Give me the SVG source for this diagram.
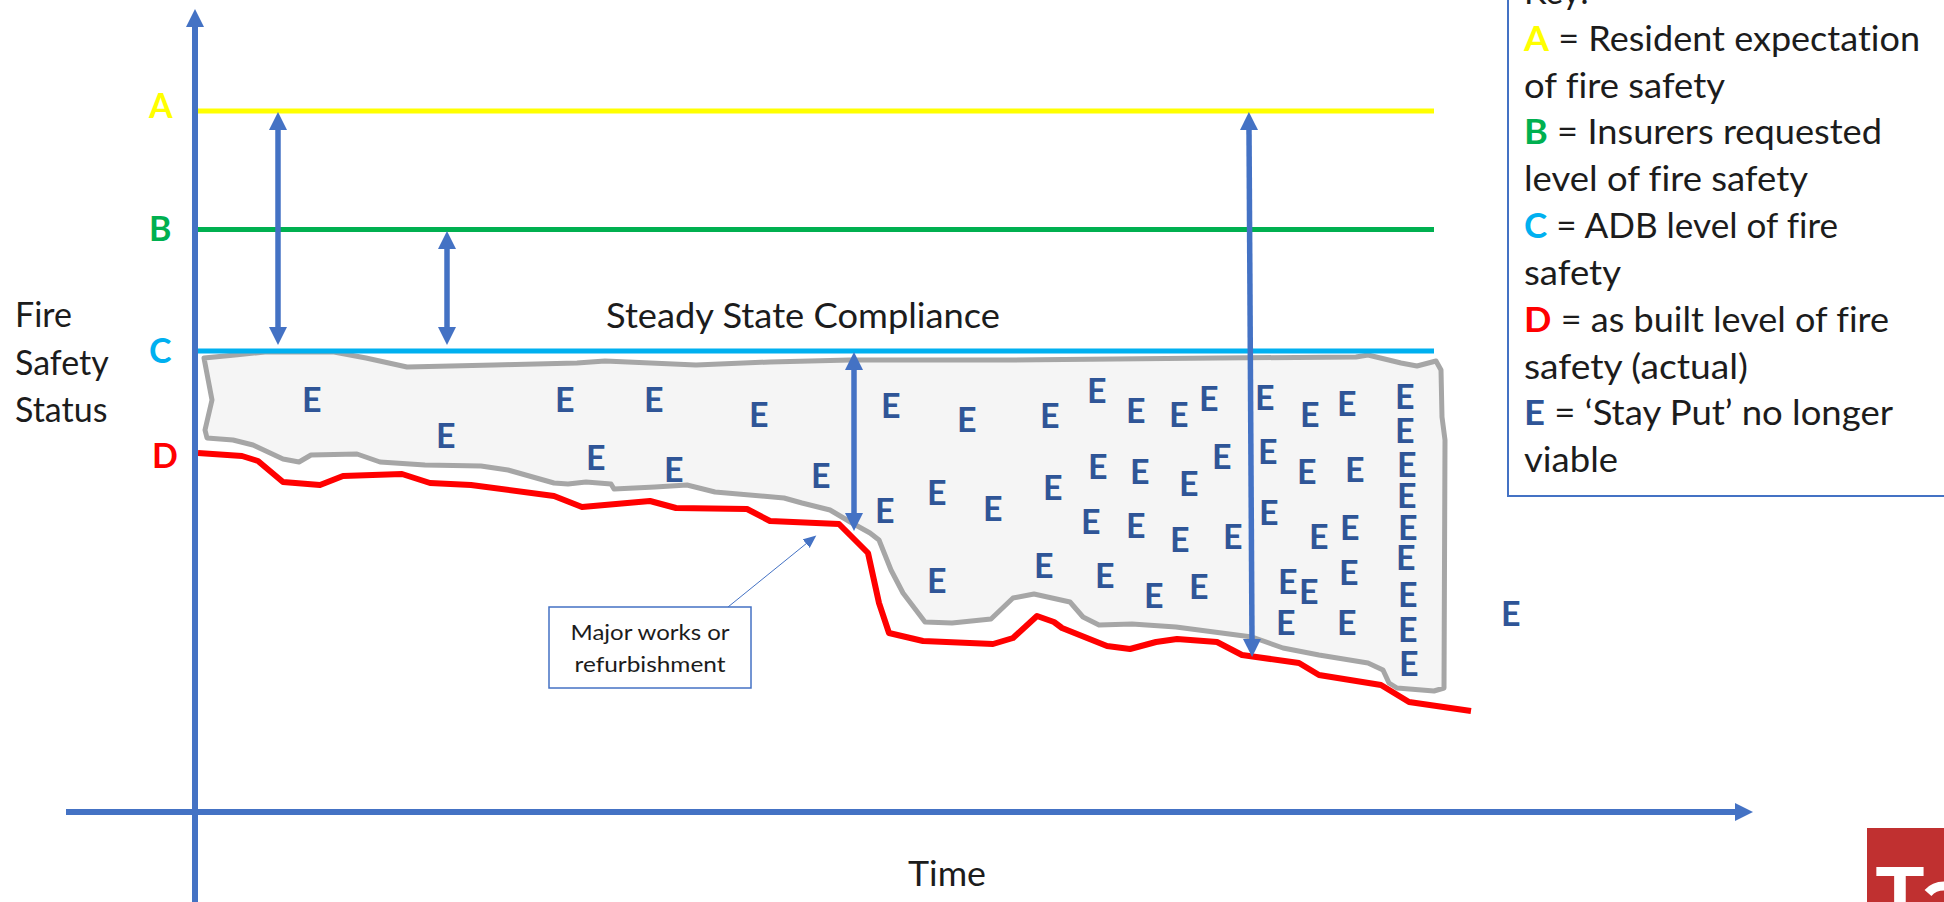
<svg xmlns="http://www.w3.org/2000/svg" width="1944" height="902" viewBox="0 0 1944 902">
<style>
text{font-family:"Lato","Noto Sans","Liberation Sans",sans-serif;fill:#1c1c1c;font-variant-ligatures:none}
.t{font-size:34px}
.s{font-size:22px}
.e{font-size:34px;font-weight:700;fill:#2F5597}
.l{font-size:34px;font-weight:700}
.ax{stroke:#4472C4;stroke-width:6;fill:none}
.da{stroke:#4472C4;stroke-width:5.5;fill:none;marker-start:url(#h);marker-end:url(#h)}
.lv{stroke-width:5;fill:none}
.a{fill:#FFFF00}.b{fill:#00B050}.c{fill:#00B0F0}.d{fill:#FF0000}.k{fill:#2F5597}
</style>
<defs>
<marker id="h" markerUnits="userSpaceOnUse" markerWidth="20" markerHeight="20" refX="1" refY="10" orient="auto-start-reverse"><path d="M0 1L18 10L0 19z" fill="#4472C4"/></marker>
<marker id="n" markerUnits="userSpaceOnUse" markerWidth="14" markerHeight="12" refX="1" refY="6" orient="auto"><path d="M0 0.5L13 6L0 11.5z" fill="#4472C4"/></marker>
<filter id="soft" x="-5%" y="-5%" width="110%" height="110%"><feGaussianBlur stdDeviation="0.7"/></filter>
</defs>
<rect width="1944" height="902" fill="#fff"/>

<g id="non-compliance-zone">
<path filter="url(#soft)" fill="#F5F5F5" stroke="#A6A6A6" stroke-width="5" stroke-linejoin="round" d="M204 358L235 355L265 352L334 352L366 358L407 367L494 365L577 363L605 361L696 365L770 362L850 360L1013 360L1217 358L1356 357L1368 355L1401 363L1417 366L1436 361L1441 370L1442 417L1445 440L1444 688L1434 691L1397 688L1389 683L1383 670L1368 663L1319 655L1283 648L1252 637L1176 627L1132 624L1099 625L1083 617L1070 602L1034 594L1013 598L991 619L952 623L925 622L903 593L891 570L879 540L870 533L852 523L830 510L802 503L784 498L715 492L687 485L655 487L614 489L611 484L586 482L568 484L554 483L508 470L481 466L425 465L380 462L357 454L311 455L299 462L283 459L253 445L233 440L207 438L205 430L212 400z"/>
</g>

<g id="levels">
<line class="lv" x1="198" y1="111" x2="1434" y2="111" stroke="#FFFF00"/>
<line class="lv" x1="198" y1="229.500" x2="1434" y2="229.500" stroke="#00B050"/>
<line class="lv" x1="198" y1="351" x2="1434" y2="351" stroke="#00B0F0"/>
<path id="level-d" filter="url(#soft)" fill="none" stroke="#FF0000" stroke-width="6" stroke-linejoin="round" d="M198 453L242 456L258 461L283 482L320 485L343 476L402 474L430 483L471 485L554 496L582 507L650 501L676 508L747 509L770 521L839 524L850 535L868 553L879 603L889 633L923 641L993 644L1013 638L1037 616L1054 622L1062 628L1107 646L1130 649L1156 642L1177 639L1217 642L1242 655L1299 663L1319 675L1381 685L1409 702L1471 711"/>
</g>

<g id="stay-put-markers" transform="translate(-2 0)">
<text class="e" x="304" y="412">E</text><text class="e" x="557" y="412">E</text><text class="e" x="646" y="412">E</text><text class="e" x="751" y="427">E</text><text class="e" x="438" y="448">E</text><text class="e" x="588" y="470">E</text><text class="e" x="666" y="482">E</text><text class="e" x="813" y="488">E</text>
<text class="e" x="883" y="418">E</text><text class="e" x="959" y="432">E</text><text class="e" x="1042" y="428">E</text><text class="e" x="1089" y="403">E</text><text class="e" x="1128" y="423">E</text><text class="e" x="1171" y="427">E</text><text class="e" x="1201" y="411">E</text><text class="e" x="1257" y="410">E</text><text class="e" x="1302" y="427">E</text><text class="e" x="1339" y="416">E</text>
<text class="e" x="1397" y="409">E</text><text class="e" x="1397" y="443">E</text><text class="e" x="1399" y="477">E</text><text class="e" x="1399" y="508">E</text><text class="e" x="1400" y="540">E</text><text class="e" x="1398" y="570">E</text><text class="e" x="1400" y="607">E</text><text class="e" x="1400" y="642">E</text><text class="e" x="1401" y="676">E</text>
<text class="e" x="1214" y="469">E</text><text class="e" x="1260" y="464">E</text><text class="e" x="1299" y="484">E</text><text class="e" x="1347" y="482">E</text><text class="e" x="1090" y="479">E</text><text class="e" x="1132" y="484">E</text><text class="e" x="1181" y="496">E</text><text class="e" x="1045" y="500">E</text><text class="e" x="929" y="505">E</text><text class="e" x="877" y="523">E</text><text class="e" x="985" y="521">E</text>
<text class="e" x="1083" y="534">E</text><text class="e" x="1128" y="538">E</text><text class="e" x="1172" y="552">E</text><text class="e" x="1225" y="549">E</text><text class="e" x="1261" y="525">E</text><text class="e" x="1311" y="549">E</text><text class="e" x="1342" y="540">E</text>
<text class="e" x="929" y="593">E</text><text class="e" x="1036" y="578">E</text><text class="e" x="1097" y="588">E</text><text class="e" x="1146" y="608">E</text><text class="e" x="1191" y="599">E</text><text class="e" x="1280" y="594">E</text><text class="e" x="1301" y="604">E</text><text class="e" x="1341" y="585">E</text><text class="e" x="1278" y="635">E</text><text class="e" x="1339" y="635">E</text>
<text class="e" x="1503" y="626">E</text>
</g>

<g id="connectors">
<line class="ax" x1="195" y1="902" x2="195" y2="26" marker-end="url(#h)"/>
<line class="ax" x1="66" y1="812" x2="1736" y2="812" marker-end="url(#h)"/>
<line class="da" x1="278" y1="129" x2="278" y2="328"/>
<line class="da" x1="447" y1="248" x2="447" y2="328"/>
<line class="da" x1="854" y1="369" x2="854" y2="514"/>
<line class="da" x1="1249" y1="129" x2="1252" y2="640"/>
<line x1="728" y1="607" x2="807" y2="543" stroke="#4472C4" stroke-width="1" marker-end="url(#n)"/>
</g>

<g id="level-labels">
<text class="l a" x="149" y="118">A</text>
<text class="l b" x="149" y="241">B</text>
<text class="l c" x="149" y="363">C</text>
<text class="l d" x="152" y="468">D</text>
</g>

<g id="y-axis-title">
<text class="t" x="15" y="327">Fire</text>
<text class="t" x="15" y="375">Safety</text>
<text class="t" x="15" y="422">Status</text>
</g>
<g id="x-axis-title"><text class="t" x="908" y="886" textLength="78" lengthAdjust="spacingAndGlyphs">Time</text></g>
<g id="compliance-title"><text class="t" x="606" y="328" textLength="394" lengthAdjust="spacingAndGlyphs">Steady State Compliance</text></g>

<g id="works-note">
<rect x="549" y="607" width="202" height="81" fill="#fff" stroke="#4472C4" stroke-width="1.5"/>
<text class="s" x="650" y="640" text-anchor="middle" textLength="159" lengthAdjust="spacingAndGlyphs">Major works or</text>
<text class="s" x="650" y="672" text-anchor="middle" textLength="151" lengthAdjust="spacingAndGlyphs">refurbishment</text>
</g>

<g id="key">
<rect x="1508" y="-10" width="450" height="506" fill="#fff" stroke="#4472C4" stroke-width="2"/>
<text class="t" x="1524" y="4">Key:</text>
<text class="t" x="1524" y="51" textLength="396" lengthAdjust="spacingAndGlyphs"><tspan class="l a">A</tspan> = Resident expectation</text>
<text class="t" x="1524" y="98" textLength="201" lengthAdjust="spacingAndGlyphs">of fire safety</text>
<text class="t" x="1524" y="144" textLength="358" lengthAdjust="spacingAndGlyphs"><tspan class="l b">B</tspan> = Insurers requested</text>
<text class="t" x="1524" y="191" textLength="284" lengthAdjust="spacingAndGlyphs">level of fire safety</text>
<text class="t" x="1524" y="238" textLength="314" lengthAdjust="spacingAndGlyphs"><tspan class="l c">C</tspan> = ADB level of fire</text>
<text class="t" x="1524" y="285" textLength="97" lengthAdjust="spacingAndGlyphs">safety</text>
<text class="t" x="1524" y="332" textLength="365" lengthAdjust="spacingAndGlyphs"><tspan class="l d">D</tspan> = as built level of fire</text>
<text class="t" x="1524" y="379" textLength="224" lengthAdjust="spacingAndGlyphs">safety (actual)</text>
<text class="t" x="1524" y="425" textLength="369" lengthAdjust="spacingAndGlyphs"><tspan class="l k">E</tspan> = ‘Stay Put’ no longer</text>
<text class="t" x="1524" y="472" textLength="94" lengthAdjust="spacingAndGlyphs">viable</text>
</g>

<g id="logo">
<rect x="1867" y="828" width="77" height="74" fill="#C03030"/>
<text x="1900" y="922" text-anchor="middle" style="font-family:'Liberation Sans',sans-serif;font-size:80px;font-weight:700;fill:#fff">T</text>
<path d="M1928 893Q1934 886 1944 886" fill="none" stroke="#fff" stroke-width="9"/>
</g>
</svg>
